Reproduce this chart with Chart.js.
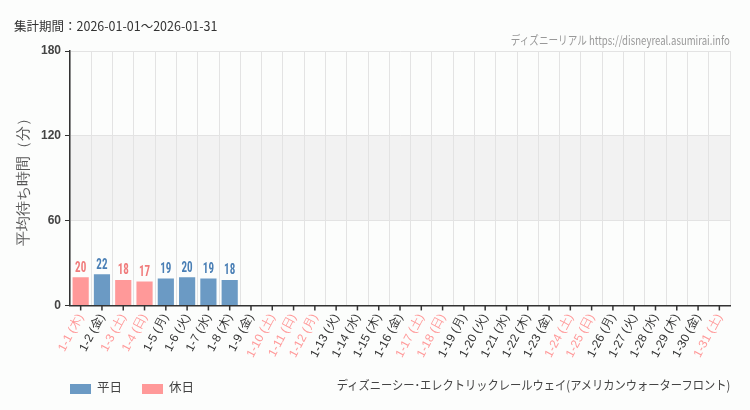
<!DOCTYPE html>
<html><head><meta charset="utf-8">
<script src="https://cdn.jsdelivr.net/npm/chart.js@4"></script>
<style>
body{margin:0;background:#fcfdfc;font-family:"Noto Sans CJK JP","Noto Sans",sans-serif;}
#wrap{position:relative;width:750px;height:410px;}
.t{position:absolute;white-space:nowrap;}
</style></head><body>
<div id="wrap">
<canvas id="c" width="750" height="410"></canvas>
<div class="t" style="left:14px;top:16px;font-size:12.5px;color:#333;">集計期間：2026-01-01～2026-01-31</div>
<div class="t" style="right:20px;top:31px;font-size:12px;color:#999;transform:scaleX(0.8);transform-origin:right;">ディズニーリアル https://disneyreal.asumirai.info</div>
<div class="t" style="left:70px;top:377px;font-size:12.5px;color:#444;"><span style="display:inline-block;width:21px;height:10px;background:#6b9ac4;vertical-align:middle;margin-right:6px"></span>平日<span style="display:inline-block;width:21px;height:10px;background:#ff9999;vertical-align:middle;margin:0 6px 0 20px"></span>休日</div>
<div class="t" style="right:20px;top:375px;font-size:12.5px;color:#444;transform:scaleX(0.9);transform-origin:right;">ディズニーシー･エレクトリックレールウェイ(アメリカンウォーターフロント)</div>
</div>
<script>
const labels=["1-1 (木)","1-2 (金)","1-3 (土)","1-4 (日)","1-5 (月)","1-6 (火)","1-7 (水)","1-8 (木)","1-9 (金)","1-10 (土)","1-11 (日)","1-12 (月)","1-13 (火)","1-14 (水)","1-15 (木)","1-16 (金)","1-17 (土)","1-18 (日)","1-19 (月)","1-20 (火)","1-21 (水)","1-22 (木)","1-23 (金)","1-24 (土)","1-25 (日)","1-26 (月)","1-27 (火)","1-28 (水)","1-29 (木)","1-30 (金)","1-31 (土)"];
const holidays=[1,0,1,1,0,0,0,0,0,1,1,1,0,0,0,0,1,1,0,0,0,0,0,1,1,0,0,0,0,0,1];
const waitTimes=[20,22,18,17,19,20,19,18,null,null,null,null,null,null,null,null,null,null,null,null,null,null,null,null,null,null,null,null,null,null,null];
const yTicks=[0,60,120,180];
const BLUE='#6b9ac4',RED='#ff9999',BLUET='#4a7fb5',REDT='#f07b7b';
const band={id:'band',beforeDraw(ch){const {ctx,chartArea:a,scales:{y}}=ch;ctx.save();ctx.fillStyle='#f2f2f2';const t=y.getPixelForValue(120),b=y.getPixelForValue(60);ctx.fillRect(a.left,t,a.right-a.left,b-t);ctx.restore();}};
const vals={id:'vals',afterDatasetsDraw(ch){const {ctx}=ch;const m=ch.getDatasetMeta(0);ctx.save();ctx.font='bold 13px "Liberation Sans Narrow","Roboto Condensed",sans-serif';ctx.textAlign='center';ctx.textBaseline='bottom';m.data.forEach((b,i)=>{if(waitTimes[i]==null)return;ctx.fillStyle=holidays[i]?REDT:BLUET;ctx.save();ctx.translate(b.x,b.y-2);ctx.scale(0.85,1.1);ctx.fillText(waitTimes[i],0,0);ctx.restore();});ctx.restore();}};
new Chart(document.getElementById('c'),{type:'bar',
data:{labels,datasets:[{data:waitTimes,backgroundColor:holidays.map(h=>h?RED:BLUE),categoryPercentage:0.8,barPercentage:0.95}]},
options:{responsive:false,animation:false,layout:{padding:{top:51,right:20,bottom:44,left:11}},
plugins:{legend:{display:false},tooltip:{enabled:false}},
scales:{x:{grid:{offset:true,color:'#e3e3e3',drawTicks:false},border:{color:'#333',width:1.5},
ticks:{minRotation:62,maxRotation:62,padding:6,autoSkip:false,color:(c)=>holidays[c.index]?RED:'#333',font:{size:12}}},
y:{min:0,max:180,afterBuildTicks(s){s.ticks=yTicks.map(v=>({value:v}));},grid:{color:'#e3e3e3',drawTicks:true,tickColor:'#333',tickLength:5},border:{color:'#333',width:1.5},
ticks:{color:'#444',font:{size:12,weight:'bold'},padding:4},
title:{display:true,text:'平均待ち時間（分）',color:'#555',font:{size:15},padding:{bottom:4}}}}},
plugins:[band,vals,{id:'xt',afterDraw(ch){const {ctx,scales:{x,y}}=ch;ctx.save();ctx.strokeStyle='#333';ctx.lineWidth=1.5;const yb=y.getPixelForValue(0);labels.forEach((l,i)=>{const px=x.getPixelForValue(i);ctx.beginPath();ctx.moveTo(px,yb);ctx.lineTo(px,yb+5);ctx.stroke();});ctx.restore();}}]});
</script></body></html>
